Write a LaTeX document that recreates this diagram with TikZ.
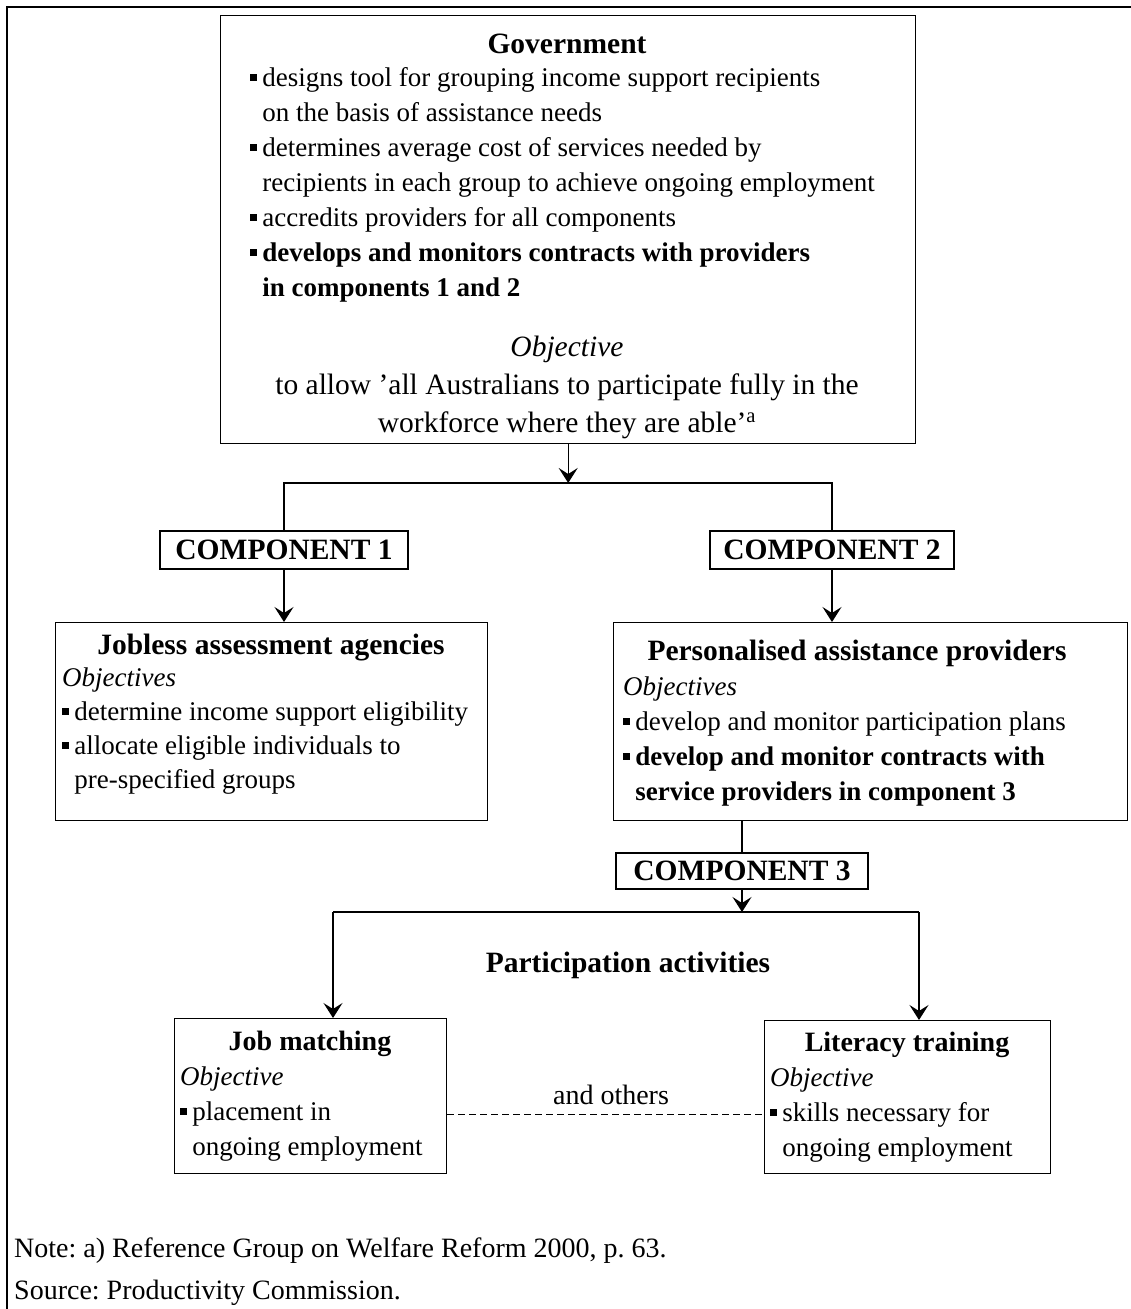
\documentclass[tikz,border=0pt]{standalone}
\usepackage{fontspec}
\setmainfont{Liberation Serif}
\usetikzlibrary{positioning,calc,arrows.meta}

% square bullet and hanging indent
\newcommand{\sqb}{\makebox[0.45em][l]{\rule[0.2em]{0.24em}{0.24em}}}
\newcommand{\hng}{\hspace*{0.45em}}

\begin{document}
\frenchspacing
\begin{tikzpicture}[x=1pt,y=-1pt,
  box/.style={draw,line width=1.4pt,inner sep=0pt,anchor=north west},
  comp/.style={draw,line width=1.4pt,inner sep=0pt,minimum height=38pt,
    font=\fontsize{29.5}{34}\selectfont\bfseries},
  head/.style={inner sep=0pt,anchor=base,font=\fontsize{29.5}{34}\selectfont\bfseries},
  txt/.style={inner sep=0pt,anchor=base west,align=left,font=\fontsize{27}{35}\selectfont},
  conn/.style={line width=1.4pt},
  arr/.style={conn,-{Stealth[length=15pt,width=19pt,inset=6pt]}}]

\useasboundingbox (0,0) rectangle (1131,1309);

% Frame
\draw[line width=1.6pt] (7,1309) -- (7,7) -- (1131,7);

% Government (multi-line texts sit on the baseline of their last line)
\node[box,minimum width=695pt,minimum height=428pt] (gov) at (220,15) {};
\node[head] (govhead) at (567,53) {Government};
\node[txt] (govlist) at (250,296) {\sqb designs tool for grouping income support recipients\\
  \hng on the basis of assistance needs\\
  \sqb determines average cost of services needed by\\
  \hng recipients in each group to achieve ongoing employment\\
  \sqb accredits providers for all components\\
  \textbf{\sqb develops and monitors contracts with providers}\\
  \textbf{\hng in components 1 and 2}};
\node[inner sep=0pt,anchor=base,align=center,font=\fontsize{29.5}{38}\selectfont] (govobj) at (567,432)
  {\textit{Objective}\\to allow ’all Australians to participate fully in the\\workforce where they are able’\textsuperscript{a}};

\coordinate (split) at (567,483);

% Components 1 and 2
\node[comp,minimum width=248pt] (comp1) at (284,550) {COMPONENT 1};
\node[comp,minimum width=244pt] (comp2) at (832,550) {COMPONENT 2};

% Jobless assessment agencies
\node[box,minimum width=432pt,minimum height=198pt] (jobless) at (55,622) {};
\node[head] (joblesshead) at (271,654) {Jobless assessment agencies};
\node[txt,font=\fontsize{27}{34}\selectfont] (joblesslist) at (62,788) {\textit{Objectives}\\
  \sqb determine income support eligibility\\
  \sqb allocate eligible individuals to\\
  \hng pre-specified groups};

% Personalised assistance providers
\node[box,minimum width=514pt,minimum height=198pt] (pers) at (613,622) {};
\node[head] (pershead) at (857,660) {Personalised assistance providers};
\node[txt] (perslist) at (623,800) {\textit{Objectives}\\
  \sqb develop and monitor participation plans\\
  \textbf{\sqb develop and monitor contracts with}\\
  \textbf{\hng service providers in component 3}};

% Component 3
\node[comp,minimum width=252pt,minimum height=36pt] (comp3) at (742,871) {COMPONENT 3};

\coordinate (actl) at (333,912);
\coordinate (actr) at (919,912);
\node[head] (acthead) at (628,972) {Participation activities};

% Job matching
\node[box,minimum width=272pt,minimum height=155pt] (jobm) at (174,1018) {};
\node[head,font=\fontsize{28}{34}\selectfont\bfseries] (jobmhead) at (310,1050) {Job matching};
\node[txt] (jobmlist) at (180,1155) {\textit{Objective}\\\sqb placement in\\\hng ongoing employment};

% Literacy training
\node[box,minimum width=286pt,minimum height=153pt] (litt) at (764,1020) {};
\node[head,font=\fontsize{28}{34}\selectfont\bfseries] (lithead) at (907,1051) {Literacy training};
\node[txt] (littlist) at (770,1156) {\textit{Objective}\\\sqb skills necessary for\\\hng ongoing employment};

\node[inner sep=0pt,anchor=base,font=\fontsize{28}{34}\selectfont] (others) at (611,1104) {and others};
\coordinate (dashl) at ($(jobm.south east)+(0,-60)$);

% Connectors
\draw[arr] (gov.south) -- (gov.south |- split);
\draw[conn] (comp1.north) -- (comp1.north |- split) -- (comp2.north |- split) -- (comp2.north);
\draw[arr] (comp1.south) -- (comp1.south |- jobless.north);
\draw[arr] (comp2.south) -- (comp2.south |- pers.north);
\draw[conn] (comp3.north |- pers.south) -- (comp3.north);
\draw[arr] (comp3.south) -- (comp3.south |- actl);
\draw[conn] (actl) -- (actr);
\draw[arr] (actl) -- (actl |- jobm.north);
\draw[arr] (actr) -- (actr |- litt.north);
\draw[line width=1pt,dash pattern=on 7pt off 4pt] (dashl) -- (dashl -| litt.west);

% Notes
\node[txt,font=\fontsize{28}{42}\selectfont] (notes) at (14,1299) {Note: a) Reference Group on Welfare Reform 2000, p. 63.\\Source: Productivity Commission.};

\end{tikzpicture}
\end{document}
